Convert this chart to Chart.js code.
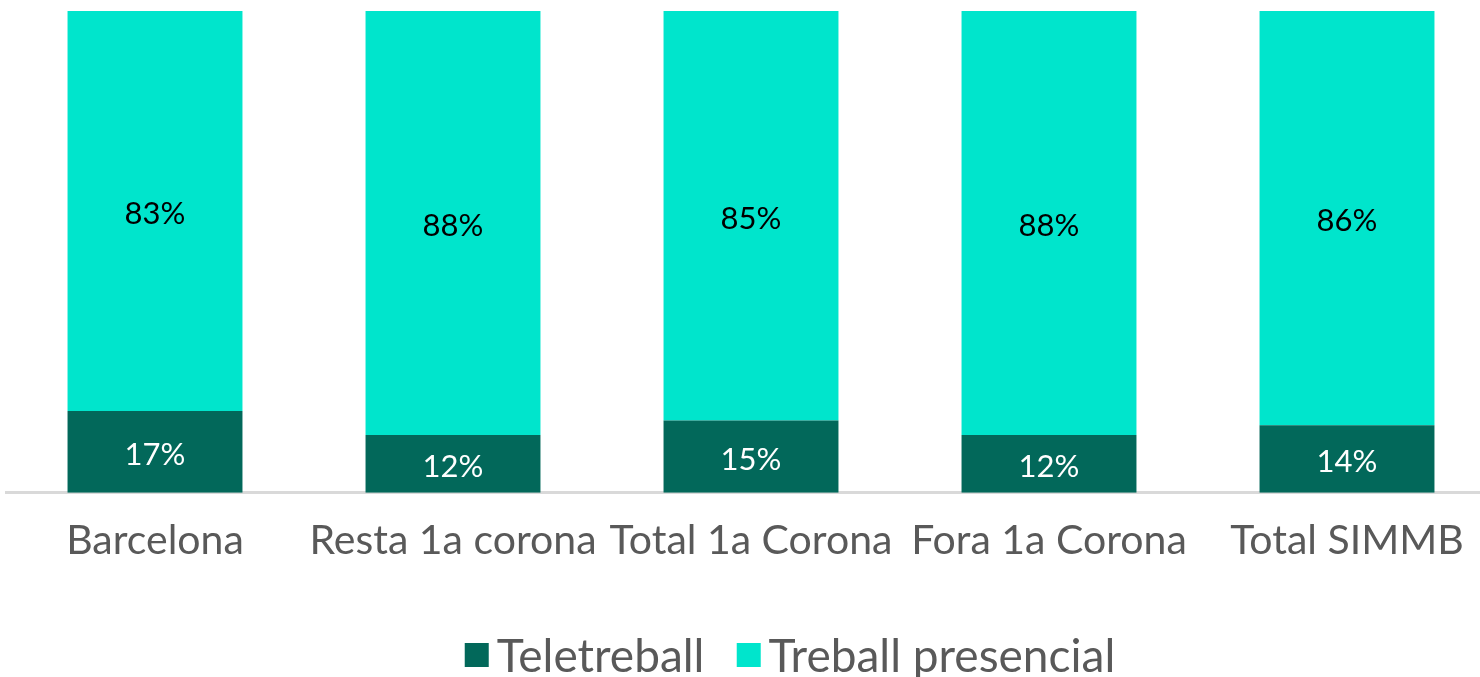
<!DOCTYPE html>
<html>
<head>
<meta charset="utf-8">
<script src="https://cdn.jsdelivr.net/npm/chart.js@4.4.1/dist/chart.umd.min.js"></script>
<style>
  html, body { margin: 0; padding: 0; background: #fff; overflow: hidden; width: 1480px; height: 677px; }
  #wrap { position: absolute; left: 0; top: 0; width: 1500px; height: 677px; }
  #legend { position: absolute; left: 790px; top: 655px; transform: translate(-50%, -50%);
            display: flex; align-items: center; white-space: nowrap;
            font-family: 'Century Gothic', Lato, 'DejaVu Sans', sans-serif; font-size: 46px; color: #595959; line-height: 1; }
  .item { display: flex; align-items: center; margin-right: 32px; }
  .item:last-child { margin-right: 0; }
  .sw { width: 24px; height: 24px; margin-right: 8px; display: inline-block; }
</style>
</head>
<body>
<div id="wrap"><canvas id="c" width="1500" height="677"></canvas></div>
<div id="legend"></div>
<script>
const categories = ['Barcelona', 'Resta 1a corona', 'Total 1a Corona', 'Fora 1a Corona', 'Total SIMMB'];
const teletreball = [17, 12, 15, 12, 14];
const presencial = [83, 88, 85, 88, 86];
const seriesNames = ['Teletreball', 'Treball presencial'];
const seriesColors = ['#02685A', '#00E5CC'];
const labelColors = ['#FFFFFF', '#000000'];

const FONT = "'Century Gothic', Lato, 'DejaVu Sans', sans-serif";

const valueLabels = {
  id: 'valueLabels',
  afterDatasetsDraw(chart) {
    const ctx = chart.ctx;
    ctx.save();
    ctx.font = '31px ' + FONT;
    ctx.textAlign = 'center';
    ctx.textBaseline = 'middle';
    chart.data.datasets.forEach((ds, di) => {
      const meta = chart.getDatasetMeta(di);
      ctx.fillStyle = labelColors[di];
      meta.data.forEach((el, i) => {
        const p = el.getProps(['x', 'y', 'base'], true);
        ctx.fillText(ds.data[i] + '%', p.x, (p.y + p.base) / 2 + 3);
      });
    });
    ctx.restore();
  }
};

new Chart(document.getElementById('c'), {
  type: 'bar',
  data: {
    labels: categories,
    datasets: [
      { label: seriesNames[0], data: teletreball, backgroundColor: seriesColors[0] },
      { label: seriesNames[1], data: presencial, backgroundColor: seriesColors[1] }
    ]
  },
  options: {
    responsive: false,
    animation: false,
    devicePixelRatio: 1,
    layout: { padding: { left: 6, right: 4, top: 11, bottom: 89 } },
    datasets: { bar: { categoryPercentage: 1, barPercentage: 0.587 } },
    plugins: { legend: { display: false }, tooltip: { enabled: false } },
    scales: {
      x: {
        stacked: true,
        grid: { display: false, drawTicks: false },
        border: { display: true, color: '#D9D9D9', width: 3 },
        ticks: { font: { family: FONT, size: 41 }, color: '#595959', padding: 23 }
      },
      y: { stacked: true, display: false, min: 0, max: 100 }
    }
  },
  plugins: [valueLabels]
});

const lg = document.getElementById('legend');
seriesNames.forEach((n, i) => {
  const it = document.createElement('div');
  it.className = 'item';
  const sw = document.createElement('span');
  sw.className = 'sw';
  sw.style.background = seriesColors[i];
  const tx = document.createElement('span');
  tx.textContent = n;
  it.appendChild(sw); it.appendChild(tx);
  lg.appendChild(it);
});
</script>
</body>
</html>
